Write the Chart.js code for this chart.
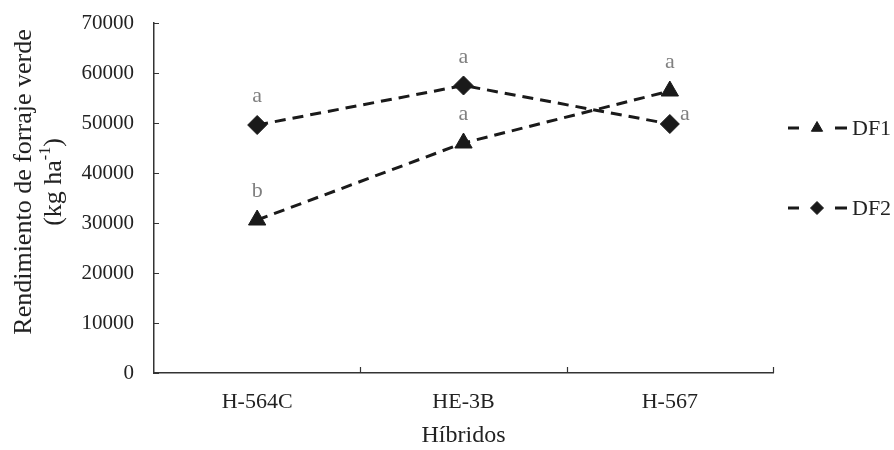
<!DOCTYPE html>
<html>
<head>
<meta charset="utf-8">
<script src="https://cdn.jsdelivr.net/npm/chart.js@4.4.1/dist/chart.umd.min.js"></script>
<style>
html,body{margin:0;padding:0;background:#fff;}
#wrap{width:894px;height:450px;position:relative;}
</style>
</head>
<body>
<div id="wrap"><canvas id="c" width="894" height="450"></canvas></div>
<script>
const categories = ['H-564C', 'HE-3B', 'H-567'];
const seriesNames = ['DF1', 'DF2'];
const df1Values = [30600, 46000, 56400];
const df2Values = [49600, 57500, 49800];
const df1Letters = ['b', 'a', 'a'];
const df2Letters = ['a', 'a', 'a'];
const yTicks = [0, 10000, 20000, 30000, 40000, 50000, 60000, 70000];
const xTitle = 'Híbridos';
const yTitleMain = 'Rendimiento de forraje verde';
const yTitleUnit = ['(kg ha', '-1', ')'];

const FONT = '"Liberation Serif", "Times New Roman", serif';
const INK = '#1a1a1a';

const innerTicks = {
  id: 'innerTicks',
  afterDraw(chart) {
    const ctx = chart.ctx, x = chart.scales.x, y = chart.scales.y;
    ctx.save();
    ctx.strokeStyle = '#333';
    ctx.lineWidth = 1.2;
    ctx.beginPath();
    yTicks.forEach(v => {
      const py = Math.round(y.getPixelForValue(v)) + 0.5;
      ctx.moveTo(x.left, py); ctx.lineTo(x.left + 5, py);
    });
    const n = categories.length;
    for (let i = 1; i <= n; i++) {
      const px = Math.round(x.left + i * (x.right - x.left) / n) + 0.5;
      ctx.moveTo(px, y.bottom); ctx.lineTo(px, y.bottom - 6);
    }
    ctx.stroke();
    ctx.restore();
  }
};

const yTitlePlugin = {
  id: 'yTitlePlugin',
  afterDraw(chart) {
    const ctx = chart.ctx;
    const cy = 182;
    ctx.save();
    ctx.fillStyle = '#222';
    ctx.textBaseline = 'middle';
    ctx.save();
    ctx.translate(24, cy);
    ctx.rotate(-Math.PI / 2);
    ctx.font = '26px ' + FONT;
    ctx.textAlign = 'center';
    ctx.fillText(yTitleMain, 0, 0);
    ctx.restore();
    ctx.save();
    ctx.translate(54, cy);
    ctx.rotate(-Math.PI / 2);
    ctx.textAlign = 'left';
    const big = '26px ' + FONT, small = '16px ' + FONT;
    ctx.font = big; const w1 = ctx.measureText(yTitleUnit[0]).width;
    ctx.font = small; const w2 = ctx.measureText(yTitleUnit[1]).width;
    ctx.font = big; const w3 = ctx.measureText(yTitleUnit[2]).width;
    let sx = -(w1 + w2 + w3) / 2;
    ctx.font = big; ctx.fillText(yTitleUnit[0], sx, 0); sx += w1;
    ctx.font = small; ctx.fillText(yTitleUnit[1], sx, -8); sx += w2;
    ctx.font = big; ctx.fillText(yTitleUnit[2], sx, 0);
    ctx.restore();
    ctx.restore();
  }
};

const letterLabels = {
  id: 'letterLabels',
  afterDatasetsDraw(chart) {
    const ctx = chart.ctx;
    ctx.save();
    ctx.font = '22px ' + FONT;
    ctx.fillStyle = '#808080';
    ctx.textAlign = 'center';
    ctx.textBaseline = 'alphabetic';
    const sets = [df1Letters, df2Letters];
    sets.forEach((letters, di) => {
      const meta = chart.getDatasetMeta(di);
      meta.data.forEach((pt, i) => {
        let dx = 0, dy = -23;
        if (di === 1 && i === 2) { dx = 15; dy = -4; }
        ctx.fillText(letters[i], pt.x + dx, pt.y + dy);
      });
    });
    ctx.restore();
  }
};

const sideLegend = {
  id: 'sideLegend',
  afterDraw(chart) {
    const ctx = chart.ctx;
    const rows = [128, 208];
    ctx.save();
    chart.data.datasets.forEach((ds, i) => {
      const cy = rows[i];
      ctx.strokeStyle = INK;
      ctx.lineWidth = 3;
      ctx.beginPath();
      ctx.moveTo(788, cy); ctx.lineTo(799, cy);
      ctx.moveTo(835, cy); ctx.lineTo(847, cy);
      ctx.stroke();
      ctx.fillStyle = INK;
      ctx.strokeStyle = INK;
      ctx.lineWidth = 1;
      Chart.helpers.drawPoint(ctx, {pointStyle: ds.pointStyle, radius: 6.5, borderWidth: 1}, 817, cy);
      ctx.fillStyle = '#222';
      ctx.font = '22px ' + FONT;
      ctx.textAlign = 'left';
      ctx.textBaseline = 'middle';
      ctx.fillText(ds.label, 852, cy + 1);
    });
    ctx.restore();
  }
};

new Chart(document.getElementById('c'), {
  type: 'line',
  data: {
    labels: categories,
    datasets: [
      {
        label: seriesNames[0], data: df1Values,
        borderColor: INK, backgroundColor: INK, borderWidth: 3,
        borderDash: [11, 7], pointStyle: 'triangle', pointRadius: 10,
        pointBorderWidth: 1, pointBorderColor: INK, pointBackgroundColor: INK, tension: 0
      },
      {
        label: seriesNames[1], data: df2Values,
        borderColor: INK, backgroundColor: INK, borderWidth: 3,
        borderDash: [11, 7], pointStyle: 'rectRot', pointRadius: 9.5,
        pointBorderWidth: 1, pointBorderColor: INK, pointBackgroundColor: INK, tension: 0
      }
    ]
  },
  options: {
    responsive: false,
    animation: false,
    devicePixelRatio: 1,
    layout: { autoPadding: false, padding: { left: 0, right: 121, top: 23, bottom: 0 } },
    plugins: { legend: { display: false }, tooltip: { enabled: false } },
    scales: {
      x: {
        type: 'category',
        offset: true,
        grid: { display: false, drawTicks: false },
        border: { display: true, color: '#333', width: 1.5 },
        ticks: { color: '#222', font: { family: FONT, size: 22 }, padding: 16 },
        title: { display: true, text: xTitle, color: '#222', font: { family: FONT, size: 24 }, padding: { top: 6, bottom: 0 } },
        afterFit(s) { s.height = 77; s.paddingLeft = 0; s.paddingRight = 0; }
      },
      y: {
        min: 0, max: 70000,
        afterBuildTicks(s) { s.ticks = yTicks.map(v => ({ value: v })); },
        grid: { display: false, drawTicks: false },
        border: { display: true, color: '#333', width: 1.5 },
        ticks: { color: '#222', font: { family: FONT, size: 21 }, padding: 20, callback: v => String(v) },
        title: { display: false },
        afterFit(s) { s.width = 154; s.paddingTop = 0; s.paddingBottom = 0; }
      }
    }
  },
  plugins: [innerTicks, yTitlePlugin, letterLabels, sideLegend]
});
</script>
</body>
</html>
